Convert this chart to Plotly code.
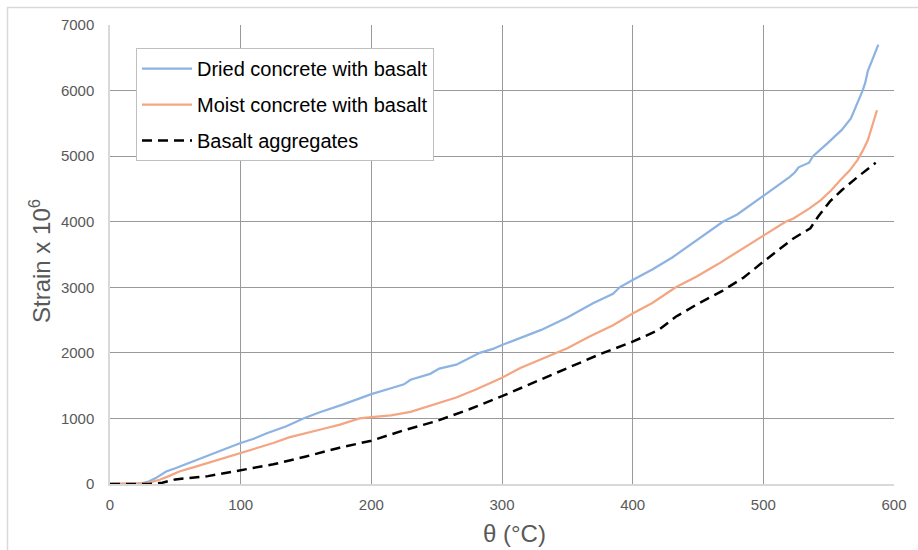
import plotly.graph_objects as go

# ---- data ----
dried_x = [0, 10, 20, 25, 30, 35, 43, 50, 60, 70, 79, 90, 100, 110, 120, 135, 148, 160, 178, 190,
           200, 215, 225, 230, 245, 252, 265, 283, 293, 300, 315, 330, 350, 370, 385, 390, 400, 415,
           430, 449, 469, 480, 500, 510, 520, 524, 527, 535, 538, 549, 560, 567, 572, 576, 578, 580,
           583, 586, 588]
dried_y = [0, 0, 5, 15, 40, 90, 190, 240, 320, 390, 470, 550, 625, 690, 775, 880, 1000, 1090, 1210, 1300,
           1370, 1460, 1520, 1590, 1680, 1760, 1820, 2000, 2060, 2120, 2230, 2350, 2540, 2760, 2900, 3000, 3110, 3270,
           3450, 3720, 4000, 4110, 4390, 4530, 4680, 4750, 4830, 4900, 5000, 5195, 5400, 5575, 5800, 6000, 6120, 6300,
           6450, 6600, 6700]

moist_x = [0, 20, 25, 30, 38, 45, 53, 65, 79, 90, 100, 112, 125, 137, 150, 165, 176, 191, 200, 215,
           230, 252, 265, 280, 300, 314, 330, 341, 350, 367, 385, 400, 415, 433, 449, 465, 480, 500, 517,
           523, 535, 544, 552, 559, 566, 572, 576, 580, 583, 585, 587]
moist_y = [0, 0, 10, 20, 65, 120, 190, 260, 345, 420, 480, 545, 625, 710, 780, 850, 905, 1000, 1020, 1045,
           1100, 1240, 1320, 1440, 1620, 1770, 1900, 2000, 2070, 2250, 2420, 2600, 2760, 3000, 3165, 3350, 3540, 3790, 4000,
           4050, 4200, 4330, 4480, 4635, 4780, 4940, 5080, 5245, 5450, 5600, 5700]

basalt_x = [0, 30, 40, 50, 75, 100, 125, 150, 175, 200, 225, 250, 275, 300, 325, 350, 375, 400,
            420, 433, 450, 469, 485, 500, 523, 536, 542, 551, 560, 572, 586]
basalt_y = [0, 0, 20, 70, 120, 210, 300, 420, 550, 660, 820, 960, 1140, 1340, 1550, 1770, 1980, 2170,
            2350, 2550, 2750, 2950, 3150, 3390, 3745, 3900, 4080, 4310, 4480, 4680, 4900]

names = ["Dried concrete with basalt", "Moist concrete with basalt", "Basalt aggregates"]
x_ticks = [0, 100, 200, 300, 400, 500, 600]
y_ticks = [0, 1000, 2000, 3000, 4000, 5000, 6000, 7000]

FONT = "Arial, Liberation Sans, sans-serif"
GRID = "#999999"
TXT = "#595959"

fig = go.Figure()
fig.add_trace(go.Scatter(x=dried_x, y=dried_y, mode="lines", name=names[0], legendgroup="a",
                         line=dict(color="#8DB3E2", width=2.25)))
fig.add_trace(go.Scatter(x=moist_x, y=moist_y, mode="lines", name=names[1], legendgroup="b",
                         line=dict(color="#F4A582", width=2.25)))
fig.add_trace(go.Scatter(x=basalt_x, y=basalt_y, mode="lines", name=names[2], legendgroup="c",
                         line=dict(color="#000000", width=2.5, dash="10px,6px")))

L, R, T, B = 110, 24, 25, 66
W, H = 918, 550
pw, ph = W - L - R, H - T - B

def px2paper_x(px):
    return (px - L) / pw

def py2paper_y(py):
    return (H - B - py) / ph

fig.update_layout(
    width=W, height=H,
    margin=dict(l=L, r=R, t=T, b=B, autoexpand=False),
    paper_bgcolor="white", plot_bgcolor="white",
    font=dict(family=FONT, color=TXT),
    showlegend=True,
    legend=dict(
        x=px2paper_x(136), y=py2paper_y(48), xanchor="left", yanchor="top",
        bgcolor="white", bordercolor="#bfbfbf", borderwidth=1,
        font=dict(family=FONT, size=20, color="#000000"),
        traceorder="grouped", tracegroupgap=7, itemwidth=50,
    ),
    xaxis=dict(
        range=[0, 600], tickvals=x_ticks, ticktext=[str(v) for v in x_ticks],
        showgrid=True, gridcolor=GRID, gridwidth=1,
        showline=True, linecolor="#d9d9d9", linewidth=1.5,
        zeroline=False, ticks="outside", ticklen=6, tickcolor="rgba(0,0,0,0)",
        tickfont=dict(family=FONT, size=15, color=TXT),
    ),
    yaxis=dict(
        range=[0, 7000], tickvals=y_ticks, ticktext=[str(v) for v in y_ticks],
        showgrid=True, gridcolor=GRID, gridwidth=1,
        showline=True, linecolor="#d9d9d9", linewidth=1.5,
        zeroline=False, ticks="outside", ticklen=11, tickcolor="rgba(0,0,0,0)",
        tickfont=dict(family=FONT, size=15, color=TXT),
    ),
    annotations=[
        dict(text="θ (°C)", xref="paper", yref="paper",
             x=px2paper_x(514), y=py2paper_y(533), xanchor="center", yanchor="middle",
             showarrow=False, font=dict(family=FONT, size=24, color=TXT)),
        dict(text="Strain x 10<sup>6</sup>", xref="paper", yref="paper", textangle=-90,
             x=px2paper_x(40), y=py2paper_y(261), xanchor="center", yanchor="middle",
             showarrow=False, font=dict(family=FONT, size=24, color=TXT)),
    ],
    shapes=[
        dict(type="rect", xref="paper", yref="paper",
             x0=px2paper_x(7.5), y0=py2paper_y(600), x1=px2paper_x(1000), y1=py2paper_y(7.5),
             line=dict(color="#d9d9d9", width=1.5), fillcolor="rgba(0,0,0,0)", layer="below"),
    ],
)

fig.write_html("out.html")
